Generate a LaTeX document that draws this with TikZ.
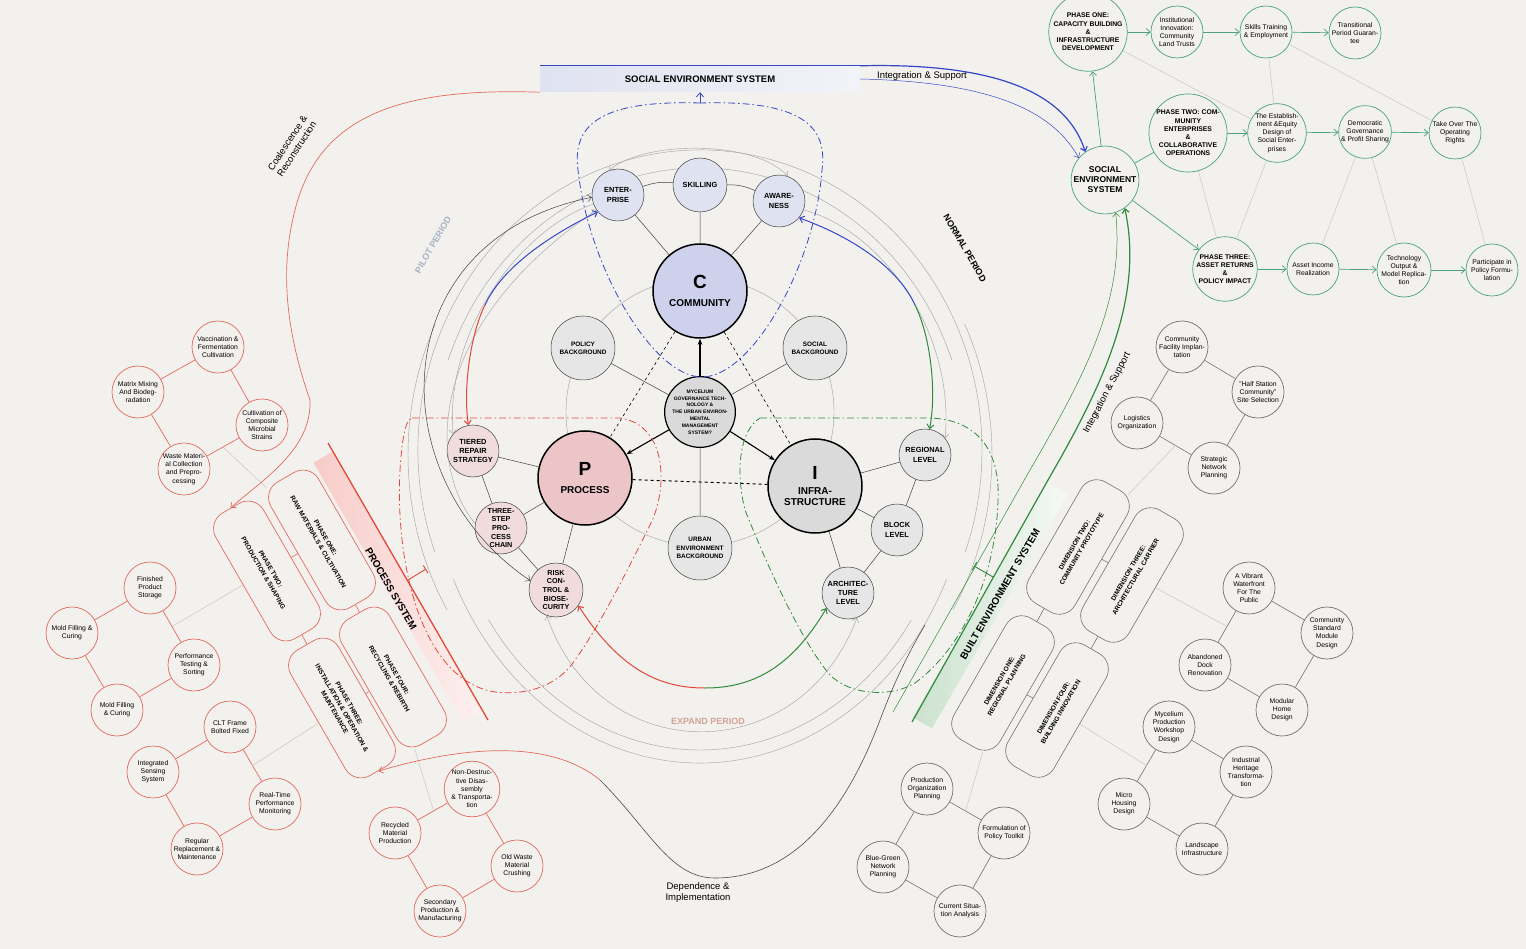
\documentclass[tikz,border=0pt]{standalone}
\usepackage{fontspec}
\setmainfont{Liberation Sans}
\usetikzlibrary{arrows.meta,positioning,calc}
\definecolor{paper}{HTML}{F3F1EE}
\definecolor{procred}{HTML}{E2483A}
\definecolor{softred}{HTML}{E36A5E}
\definecolor{buildgreen}{HTML}{2F8A3C}
\definecolor{socteal}{HTML}{4AA27E}
\definecolor{socblue}{HTML}{3447C6}
\definecolor{commfill}{HTML}{CDD1EC}
\definecolor{commlight}{HTML}{DFE2F0}
\definecolor{procfill}{HTML}{EBC5C8}
\definecolor{proclight}{HTML}{F0DCDD}
\definecolor{infrafill}{HTML}{DADADA}
\definecolor{infralight}{HTML}{E6E6E6}
\definecolor{pilotc}{HTML}{A6B3C4}
\definecolor{expandc}{HTML}{D2A296}

\begin{document}
\begin{tikzpicture}[x=1pt, y=-1pt,
  hub/.style={circle, draw, line width=1.5pt, minimum size=94pt, inner sep=0pt, align=center, font=\bfseries\fontsize{10}{11}\selectfont},
  ring/.style={circle, draw=black!75, line width=0.5pt, minimum size=52pt, inner sep=0pt, align=center, font=\bfseries\fontsize{7.4}{9.3}\selectfont},
  backg/.style={ring, fill=infralight, minimum size=64pt, font=\bfseries\fontsize{6.4}{8.4}\selectfont},
  leaf/.style={circle, draw=softred, line width=0.7pt, fill=paper, minimum size=52pt, inner sep=0pt, align=center, font=\fontsize{6.8}{8.2}\selectfont},
  gleaf/.style={leaf, draw=black!55},
  tleaf/.style={leaf, draw=socteal},
  phasebox/.style={draw=softred, line width=0.7pt, fill=paper, rounded corners=18pt, minimum width=145pt, minimum height=55pt, rotate=-60, align=center, font=\bfseries\fontsize{6.5}{8.4}\selectfont},
  dimbox/.style={draw=black!55, line width=0.6pt, fill=paper, rounded corners=18pt, minimum width=140pt, minimum height=53pt, rotate=60, align=center, font=\bfseries\fontsize{6.5}{8.4}\selectfont},
  link/.style={draw=black!75, line width=0.5pt},
  faint/.style={draw=black!22, line width=0.5pt},
  orbit/.style={draw=black!35, line width=0.45pt},
  dashdot/.style={line width=0.8pt, dash pattern=on 7pt off 3pt on 1.5pt off 3pt},
  onearr/.style={-{Straight Barb[length=4pt,width=7pt]}},
  twoarr/.style={{Straight Barb[length=4pt,width=7pt]}-{Straight Barb[length=4pt,width=7pt]}},
  period/.style={font=\bfseries\fontsize{9}{10}\selectfont},
  remark/.style={font=\fontsize{9.5}{11}\selectfont, align=center},
]
  \fill[paper] (0,0) rectangle (1526,949);
  \useasboundingbox (0,0) rectangle (1526,949);

  % orbits round the core
  \draw[orbit] (700,412) circle (134);
  \draw[orbit] (700,445) ++(25:272 and 318) arc (25:155:272 and 318);
  \draw[orbit] (700,445) ++(35:258 and 305) arc (35:145:258 and 305);
  \draw[orbit] (700,450) ++(160:282 and 300) arc (160:380:282 and 300);
  \draw[orbit] (700,460) ++(200:268 and 292) arc (200:340:268 and 292);
  \draw[orbit] (700,455) ++(150:292 and 310) arc (150:205:292 and 310);
  \draw[orbit] (700,455) ++(335:292 and 310) arc (335:390:292 and 310);

  % bars of the three systems
  \node[left color=commlight, right color=commlight!40, minimum width=320pt, minimum height=26pt, inner sep=0pt, font=\bfseries\fontsize{9.5}{11}\selectfont] (seb) at (700,79) {SOCIAL ENVIRONMENT SYSTEM};
  \draw[socblue, line width=0.9pt] (seb.north west) -- (seb.north east);
  \node[rotate=-60, left color=procred!28, right color=procred!8, minimum width=300pt, minimum height=22pt, inner sep=0pt] (psband) at (398,587) {};
  \node[rotate=-60, font=\bfseries\fontsize{10}{11}\selectfont] (psys) at (391,589) {PROCESS SYSTEM};
  \coordinate (psA) at (328,443);
  \coordinate (psB) at (488,720);
  \draw[procred, line width=1.3pt] (psA) -- (psB);
  \node[rotate=60, left color=buildgreen!25, right color=buildgreen!5, minimum width=270pt, minimum height=22pt, inner sep=0pt] (bsband) at (990,606) {};
  \node[rotate=60, font=\bfseries\fontsize{10}{11}\selectfont] (bsys) at (1000,594) {BUILT ENVIRONMENT SYSTEM};
  \coordinate (bsA) at (912,722);
  \coordinate (bsB) at (1048,480);
  \draw[buildgreen, line width=1.2pt] (bsA) -- (bsB);

  % core, hubs and their rings
  \node[circle, draw, line width=1.2pt, fill=infrafill, minimum size=67pt, inner sep=0pt, align=center, font=\bfseries\fontsize{5}{6.8}\selectfont] (core) at (700,412) {MYCELIUM\\GOVERNANCE TECH-\\NOLOGY \&\\THE URBAN ENVIRON-\\MENTAL\\MANAGEMENT\\SYSTEM?};
  \node[hub, fill=commfill] (C) at (700,291) {{\fontsize{19}{19}\selectfont C}\\[7pt]COMMUNITY};
  \node[hub, fill=procfill] (P) at (585,478) {{\fontsize{19}{19}\selectfont P}\\[7pt]PROCESS};
  \node[hub, fill=infrafill] (I) at (815,486) {{\fontsize{19}{19}\selectfont I}\\[4pt]INFRA-\\STRUCTURE};

  \node[ring, fill=commlight] (ent) at (618,195) {ENTER-\\PRISE};
  \node[ring, fill=commlight, minimum size=54pt] (skl) at (700,185) {SKILLING};
  \node[ring, fill=commlight] (awr) at (779,201) {AWARE-\\NESS};
  \node[backg] (pol) at (583,348) {POLICY\\BACKGROUND};
  \node[backg] (soc) at (815,348) {SOCIAL\\BACKGROUND};
  \node[backg] (urb) at (700,548) {URBAN\\ENVIRONMENT\\BACKGROUND};
  \node[ring, fill=proclight] (tie) at (473,451) {TIERED\\REPAIR\\STRATEGY};
  \node[ring, fill=proclight, font=\bfseries\fontsize{7.2}{8.6}\selectfont] (thr) at (501,528) {THREE-\\STEP\\PRO-\\CESS\\CHAIN};
  \node[ring, fill=proclight, minimum size=54pt, font=\bfseries\fontsize{7.2}{8.6}\selectfont] (rsk) at (556,590) {RISK\\CON-\\TROL \&\\BIOSE-\\CURITY};
  \node[ring, fill=infralight] (reg) at (925,455) {REGIONAL\\LEVEL};
  \node[ring, fill=infralight] (blk) at (897,530) {BLOCK\\LEVEL};
  \node[ring, fill=infralight] (atl) at (848,593) {ARCHITEC-\\TURE\\LEVEL};

  \draw[link] (C) -- (ent) (C) -- (skl) (C) -- (awr);
  \draw[link] (ent) to[bend left=12] (skl);
  \draw[link] (skl) to[bend left=12] (awr);
  \draw[link] (core) -- (pol) (core) -- (soc) (core) -- (urb);
  \draw[link] (P) -- (tie) (P) -- (thr) (P) -- (rsk);
  \draw[link] (tie) -- (thr) (thr) -- (rsk);
  \draw[link] (I) -- (reg) (I) -- (blk) (I) -- (atl);
  \draw[link] (reg) -- (blk) (blk) -- (atl);
  \draw[line width=1.1pt, -{Stealth[length=6pt]}] (core) -- (C);
  \draw[line width=1.1pt, -{Stealth[length=6pt]}] (core) -- (P);
  \draw[line width=1.1pt, -{Stealth[length=6pt]}] (core) -- (I);
  \draw[line width=1pt, dashed] (P) -- (I);
  \draw[line width=0.6pt, dashed] (C) -- (P);
  \draw[line width=0.6pt, dashed] (C) -- (I);

  % period loops
  \draw[orbit, twoarr] (ent.110) .. controls (645,140) and (755,140) .. (awr.70);
  \draw[orbit, onearr] (ent.200) .. controls (520,230) and (445,330) .. (tie.140);
  \draw[orbit, onearr] (awr.-20) .. controls (880,230) and (955,330) .. (reg.40);
  \draw[orbit, twoarr] (rsk.-110) .. controls (600,770) and (800,770) .. (atl.-70);
  \draw[link, twoarr] (rsk.160) .. controls (380,480) and (380,240) .. (ent.185);
  \draw[orbit, onearr] (thr.170) .. controls (430,470) and (420,330) .. (ent.215);

  % coloured links between the rings
  \coordinate (etMid) at (485,305);
  \draw[socblue, line width=1pt, {Straight Barb[length=4pt,width=7pt]}-] (ent.220) .. controls (540,240) and (500,272) .. (etMid);
  \draw[procred, line width=1pt, -{Straight Barb[length=4pt,width=7pt]}] (etMid) .. controls (470,335) and (463,390) .. (tie.100);
  \coordinate (arMid) at (915,305);
  \draw[socblue, line width=1pt, {Straight Barb[length=4pt,width=7pt]}-] (awr.-40) .. controls (860,240) and (900,272) .. (arMid);
  \draw[buildgreen, line width=1pt, -{Straight Barb[length=4pt,width=7pt]}] (arMid) .. controls (930,335) and (937,390) .. (reg.80);
  \coordinate (raMid) at (705,688);
  \draw[procred, line width=1pt, {Straight Barb[length=4pt,width=7pt]}-] (rsk.-35) .. controls (620,670) and (660,688) .. (raMid);
  \draw[buildgreen, line width=1pt, -{Straight Barb[length=4pt,width=7pt]}] (raMid) .. controls (750,688) and (790,670) .. (atl.215);

  % dash-dot envelopes
  \coordinate (tdTop) at (700,103);
  \draw[socblue, dashdot] (tdTop) .. controls (600,100) and (572,125) .. (578,170) .. controls (588,265) and (652,377) .. (702,377) .. controls (752,377) and (815,265) .. (822,170) .. controls (828,125) and (800,100) .. (tdTop);
  \draw[socblue, line width=0.8pt, onearr] (tdTop) -- (seb.south);
  \draw[procred, dashdot] (412,418) -- (620,418) .. controls (668,425) and (668,490) .. (650,525) .. controls (625,575) and (600,625) .. (575,660) .. controls (555,690) and (520,695) .. (495,692) .. controls (420,680) and (395,560) .. (400,470) .. controls (402,440) and (405,420) .. (412,418);
  \draw[buildgreen, dashdot] (760,418) -- (930,418) .. controls (985,420) and (1000,460) .. (998,500) .. controls (996,580) and (960,650) .. (915,683) .. controls (890,698) and (850,695) .. (830,675) .. controls (800,640) and (765,560) .. (745,510) .. controls (735,470) and (740,430) .. (760,418);
  \coordinate (rbIn) at (426,569);
  \coordinate (rbOut) at (408,580);
  \draw[procred, line width=0.9pt, {Bar[width=9pt]}-] (rbIn) -- (rbOut);
  \coordinate (gbIn) at (974,566);
  \coordinate (gbOut) at (993,577);
  \draw[buildgreen, line width=0.9pt, {Bar[width=9pt]}-] (gbIn) -- (gbOut);

  \node[period, rotate=60, text=pilotc] (pilot) at (433,245) {PILOT PERIOD};
  \node[period, rotate=-60] (normal) at (965,248) {NORMAL PERIOD};
  \node[period, text=expandc] (expand) at (708,721) {EXPAND PERIOD};

  % process system phases
  \node[phasebox] (ph1) at (322,540) {PHASE ONE:\\RAW MATERIALS \& CULTIVATION};
  \node[phasebox] (ph2) at (267,571) {PHASE TWO:\\PRODUCTION \& SHAPING};
  \node[phasebox] (ph3) at (342,708) {PHASE THREE:\\INSTALLATION \& OPERATION \&\\MAINTENANCE};
  \node[phasebox] (ph4) at (393,677) {PHASE FOUR:\\RECYCLING \& REBIRTH};
  \draw[softred, line width=0.6pt] (ph1) -- (ph2) (ph1) -- (ph4) (ph2) -- (ph3) (ph4) -- (ph3);

  \node[leaf] (va) at (218,347) {Vaccination \&\\Fermentation\\Cultivation};
  \node[leaf] (mm) at (138,392) {Matrix Mixing\\And Biodeg-\\radation};
  \node[leaf] (cc) at (262,425) {Cultivation of\\Composite\\Microbial\\Strains};
  \node[leaf] (wm) at (184,469) {Waste Materi-\\al Collection\\and Prepro-\\cessing};
  \draw[softred, line width=0.7pt] (va) -- (mm) (va) -- (cc) (mm) -- (wm) (cc) -- (wm);
  \draw[faint] ($(cc)!0.5!(wm)$) -- (ph1);

  \node[leaf] (fs) at (150,588) {Finished\\Product\\Storage};
  \node[leaf] (mfa) at (72,633) {Mold Filling \&\\Curing};
  \node[leaf] (pt) at (194,665) {Performance\\Testing \&\\Sorting};
  \node[leaf] (mfb) at (117,710) {Mold Filling\\\& Curing};
  \draw[softred, line width=0.7pt] (fs) -- (mfa) (fs) -- (pt) (mfa) -- (mfb) (pt) -- (mfb);
  \draw[faint] ($(fs)!0.5!(pt)$) -- (ph2);

  \node[leaf] (clt) at (230,727) {CLT Frame\\Bolted Fixed};
  \node[leaf] (iss) at (153,772) {Integrated\\Sensing\\System};
  \node[leaf] (rtm) at (275,804) {Real-Time\\Performance\\Monitoring};
  \node[leaf] (rrm) at (197,849) {Regular\\Replacement \&\\Maintenance};
  \draw[softred, line width=0.7pt] (clt) -- (iss) (clt) -- (rtm) (iss) -- (rrm) (rtm) -- (rrm);
  \draw[faint] ($(clt)!0.5!(rtm)$) -- (ph3);

  \node[leaf] (ndt) at (472,789) {Non-Destruc-\\tive Disas-\\sembly\\\& Transporta-\\tion};
  \node[leaf] (rmp) at (395,833) {Recycled\\Material\\Production};
  \node[leaf] (owc) at (517,866) {Old Waste\\Material\\Crushing};
  \node[leaf] (spm) at (440,911) {Secondary\\Production \&\\Manufacturing};
  \draw[softred, line width=0.7pt] (ndt) -- (rmp) (ndt) -- (owc) (rmp) -- (spm) (owc) -- (spm);
  \draw[faint] ($(ndt)!0.5!(rmp)$) -- (ph4);

  % built environment dimensions
  \node[dimbox] (dm1) at (1003,683) {DIMENSION ONE:\\REGIONAL PLANNING};
  \node[dimbox] (dm2) at (1078,547) {DIMENSION TWO:\\COMMUNITY PROTOTYPE};
  \node[dimbox] (dm3) at (1132,575) {DIMENSION THREE:\\ARCHITECTURAL CARRIER};
  \node[dimbox] (dm4) at (1057,710) {DIMENSION FOUR:\\BUILDING INNOVATION};
  \draw[black!55, line width=0.6pt] (dm1) -- (dm2) (dm2) -- (dm3) (dm1) -- (dm4) (dm3) -- (dm4);

  \node[gleaf] (cfi) at (1182,347) {Community\\Facility Implan-\\tation};
  \node[gleaf] (hss) at (1258,392) {"Half Station\\Community"\\Site Selection};
  \node[gleaf] (log) at (1137,423) {Logistics\\Organization};
  \node[gleaf] (snp) at (1214,468) {Strategic\\Network\\Planning};
  \draw[black!55, line width=0.6pt] (cfi) -- (hss) (cfi) -- (log) (hss) -- (snp) (log) -- (snp);
  \draw[faint] ($(log)!0.5!(snp)$) -- (dm2);

  \node[gleaf] (vwf) at (1249,588) {A Vibrant\\Waterfront\\For The\\Public};
  \node[gleaf] (csm) at (1327,633) {Community\\Standard\\Module\\Design};
  \node[gleaf] (adr) at (1205,665) {Abandoned\\Dock\\Renovation};
  \node[gleaf] (mhd) at (1282,710) {Modular\\Home\\Design};
  \draw[black!55, line width=0.6pt] (vwf) -- (csm) (vwf) -- (adr) (csm) -- (mhd) (adr) -- (mhd);
  \draw[faint] ($(vwf)!0.5!(adr)$) -- (dm3);

  \node[gleaf] (mpw) at (1169,727) {Mycelium\\Production\\Workshop\\Design};
  \node[gleaf] (iht) at (1246,772) {Industrial\\Heritage\\Transforma-\\tion};
  \node[gleaf] (mhs) at (1124,804) {Micro\\Housing\\Design};
  \node[gleaf] (lsi) at (1202,849) {Landscape\\Infrastructure};
  \draw[black!55, line width=0.6pt] (mpw) -- (iht) (mpw) -- (mhs) (iht) -- (lsi) (mhs) -- (lsi);
  \draw[faint] ($(mpw)!0.5!(mhs)$) -- (dm4);

  \node[gleaf] (pop) at (927,789) {Production\\Organization\\Planning};
  \node[gleaf] (fpt) at (1004,833) {Formulation of\\Policy Toolkit};
  \node[gleaf] (bgn) at (883,867) {Blue-Green\\Network\\Planning};
  \node[gleaf] (csa) at (960,911) {Current Situa-\\tion Analysis};
  \draw[black!55, line width=0.6pt] (pop) -- (fpt) (pop) -- (bgn) (fpt) -- (csa) (bgn) -- (csa);
  \draw[faint] ($(pop)!0.5!(fpt)$) -- (dm1);

  % social environment system
  \node[tleaf, minimum size=66pt, font=\bfseries\fontsize{8.5}{10}\selectfont] (ses) at (1105,180) {SOCIAL\\ENVIRONMENT\\SYSTEM};
  \node[tleaf, font=\bfseries\fontsize{6.8}{8.2}\selectfont] (sp1) at (1088,32) {PHASE ONE:\\CAPACITY BUILDING\\\&\\INFRASTRUCTURE\\DEVELOPMENT};
  \node[tleaf] (sa1) at (1177,32) {Institutional\\Innovation:\\Community\\Land Trusts};
  \node[tleaf] (sb1) at (1266,32) {Skills Training\\\& Employment};
  \node[tleaf] (sc1) at (1355,33) {Transitional\\Period Guaran-\\tee};
  \node[tleaf, font=\bfseries\fontsize{6.8}{8.2}\selectfont] (sp2) at (1188,133) {PHASE TWO: COM-\\MUNITY\\ENTERPRISES\\\&\\COLLABORATIVE\\OPERATIONS};
  \node[tleaf] (sa2) at (1277,133) {The Establish-\\ment \&Equity\\Design of\\Social Enter-\\prises};
  \node[tleaf] (sb2) at (1365,132) {Democratic\\Governance\\\& Profit Sharing};
  \node[tleaf] (sc2) at (1455,133) {Take Over The\\Operating\\Rights};
  \node[tleaf, font=\bfseries\fontsize{6.8}{8.2}\selectfont] (sp3) at (1225,269) {PHASE THREE:\\ASSET RETURNS\\\&\\POLICY IMPACT};
  \node[tleaf] (sa3) at (1313,269) {Asset Income\\Realization};
  \node[tleaf] (sb3) at (1404,270) {Technology\\Output \&\\Model Replica-\\tion};
  \node[tleaf] (sc3) at (1492,270) {Participate in\\Policy Formu-\\lation};
  \draw[faint] (sp1) -- (sa2) (sb1) -- (sa2) (sb1) -- (sc2) (sp2) -- (sp3) (sa2) -- (sp3) (sb2) -- (sa3) (sb2) -- (sb3) (sc2) -- (sc3);
  \draw[socteal, line width=0.7pt, onearr] (sp1) -- (sa1);
  \draw[socteal, line width=0.7pt, onearr] (sa1) -- (sb1);
  \draw[socteal, line width=0.7pt, onearr] (sb1) -- (sc1);
  \draw[socteal, line width=0.7pt, onearr] (sp2) -- (sa2);
  \draw[socteal, line width=0.7pt, onearr] (sa2) -- (sb2);
  \draw[socteal, line width=0.7pt, onearr] (sb2) -- (sc2);
  \draw[socteal, line width=0.7pt, onearr] (sp3) -- (sa3);
  \draw[socteal, line width=0.7pt, onearr] (sa3) -- (sb3);
  \draw[socteal, line width=0.7pt, onearr] (sb3) -- (sc3);
  \draw[socteal, line width=0.7pt, onearr] (ses) -- (sp1);
  \draw[socteal, line width=0.7pt] (ses) -- (sp2);
  \draw[socteal, line width=0.7pt, onearr] (ses) -- (sp3);

  % integration, coalescence and dependence
  \draw[socblue, line width=1.2pt, onearr] (seb.north east) .. controls (1020,62) and (1070,105) .. (ses.125);
  \draw[socblue, line width=0.5pt, onearr] (seb.east) .. controls (1000,82) and (1055,115) .. (ses.140);
  \node[remark] (intTop) at (922,76) {Integration \& Support};
  \coordinate (bsThin) at (1030,470);
  \draw[buildgreen, line width=1.2pt, onearr] (bsB) .. controls (1100,390) and (1145,300) .. (ses.-55);
  \draw[buildgreen, line width=0.5pt, onearr] (893,712) -- (bsThin) .. controls (1085,375) and (1125,300) .. (ses.-72);
  \node[remark, rotate=62] (intSide) at (1107,393) {Integration \& Support};
  \draw[softred, line width=0.7pt, onearr] (seb.south west) .. controls (410,88) and (320,110) .. (295,210) .. controls (282,260) and (282,320) .. (310,400) .. controls (312,450) and (262,480) .. (ph2.west);
  \node[remark, rotate=57] (coal) at (292,146) {Coalescence \&\\Reconstruction};
  \coordinate (depMid) at (600,780);
  \draw[softred, line width=0.7pt, {Straight Barb[length=4pt,width=7pt]}-] (ph3.east) .. controls (450,750) and (545,735) .. (depMid);
  \draw[black!70, line width=0.6pt] (depMid) .. controls (650,830) and (670,878) .. (715,878) .. controls (800,878) and (850,800) .. (880,720) .. controls (895,680) and (910,650) .. (925,625);
  \node[remark] (dep) at (698,893) {Dependence \&\\Implementation};
\end{tikzpicture}
\end{document}
